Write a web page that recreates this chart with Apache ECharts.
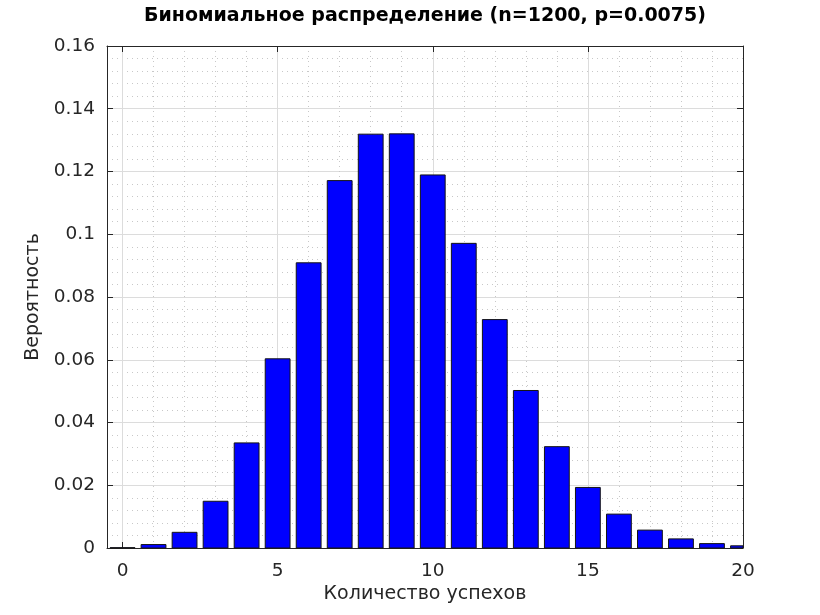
<!DOCTYPE html>
<html lang="ru">
<head>
	<meta charset="UTF-8">
	<script src="https://cdn.jsdelivr.net/npm/echarts@6.0.0/dist/echarts.min.js"></script>
	<title>Биномиальное распределение</title>
	<style>
		html, body { margin: 0; padding: 0; background: #fff; }
	</style>
</head>
<body>
	<div id="main" style="width: 820px;height:615px;"></div>

	<script>
		// данные
		var successes = [0, 1, 2, 3, 4, 5, 6, 7, 8, 9, 10, 11, 12, 13, 14, 15, 16, 17, 18, 19, 20];
		var probabilities = [0.0001, 0.0011, 0.0050, 0.0149, 0.0335, 0.0603, 0.0909, 0.1171, 0.1319, 0.1320,
			0.1189, 0.0971, 0.0728, 0.0502, 0.0323, 0.0193, 0.0108, 0.0057, 0.0029, 0.0014, 0.0007];
		var xTickLabels = [0, 5, 10, 15, 20];
		var yTickLabels = [0, 0.02, 0.04, 0.06, 0.08, 0.1, 0.12, 0.14, 0.16];

		var FONT = 'DejaVu Sans';
		var AXIS_COLOR = '#262626';
		var BAR_WIDTH = 0.8; // в единицах оси X

		// размеры области графика
		var plotLeft = 107, plotRight = 743, plotTop = 46, plotBottom = 548;
		var xMin = -0.5, xMax = 20;
		var pxPerUnit = (plotRight - plotLeft) / (xMax - xMin);
		var gridLeft2 = plotLeft + pxPerUnit * (0 - xMin);

		var chart = echarts.init(document.getElementById('main'));

		// столбец, обрезанный по области графика (как в Octave)
		function renderBar(params, api) {
			var x = api.value(0), y = api.value(1);
			var p0 = api.coord([x - BAR_WIDTH / 2, 0]);
			var p1 = api.coord([x + BAR_WIDTH / 2, y]);
			var cs = params.coordSys;
			var shape = echarts.graphic.clipRectByRect(
				{ x: p0[0], y: p1[1], width: p1[0] - p0[0], height: p0[1] - p1[1] },
				{ x: cs.x, y: cs.y, width: cs.width, height: cs.height }
			);
			if (!shape) return;
			return {
				type: 'rect',
				shape: shape,
				style: { fill: '#0000ff', stroke: '#141414', lineWidth: 1 }
			};
		}

		var option = {
			animation: false,
			backgroundColor: '#fff',
			title: {
				text: 'Биномиальное распределение (n=1200, p=0.0075)',
				left: 420,
				textAlign: 'center',
				top: 2,
				textStyle: { fontFamily: FONT, fontSize: 19, fontWeight: 'bold', color: '#000' }
			},
			grid: [
				// основная сетка: столбцы и ось Y
				{ left: plotLeft, right: 820 - plotRight, top: plotTop, bottom: 615 - plotBottom, containLabel: false },
				// сетка для вертикальных линий и подписей X (начинается с x = 0)
				{ left: gridLeft2, right: 820 - plotRight, top: plotTop, bottom: 615 - plotBottom, containLabel: false }
			],
			xAxis: [
				{
					gridIndex: 0, type: 'value', min: xMin, max: xMax, position: 'bottom',
					name: 'Количество успехов', nameLocation: 'middle', nameGap: 37,
					nameTextStyle: { fontFamily: FONT, fontSize: 19, color: '#262626' },
					axisLine: { show: true, onZero: false, lineStyle: { color: AXIS_COLOR, width: 1 } },
					axisTick: { show: false }, axisLabel: { show: false }, splitLine: { show: false }
				},
				{
					gridIndex: 0, type: 'value', min: xMin, max: xMax, position: 'top',
					axisLine: { show: true, onZero: false, lineStyle: { color: AXIS_COLOR, width: 1 } },
					axisTick: { show: false }, axisLabel: { show: false }, splitLine: { show: false }
				},
				{
					gridIndex: 1, type: 'value', min: 0, max: 20, interval: 5, position: 'bottom',
					axisLine: { show: false, onZero: false },
					axisTick: { show: true, inside: true, length: 6, lineStyle: { color: AXIS_COLOR } },
					axisLabel: {
						fontFamily: FONT, fontSize: 18.5, color: '#262626', margin: 14,
						formatter: function (v) {
							return xTickLabels.indexOf(v) >= 0 ? String(v) : '';
						}
					},
					splitLine: { show: true, lineStyle: { color: '#dcdcdc', width: 1 } },
					minorTick: { show: false, splitNumber: 5 },
					minorSplitLine: { show: true, lineStyle: { color: '#c8c8c8', width: 1, type: [1, 4] } }
				},
				{
					gridIndex: 1, type: 'value', min: 0, max: 20, interval: 5, position: 'top',
					axisLine: { show: false, onZero: false },
					axisTick: { show: true, inside: true, length: 6, lineStyle: { color: AXIS_COLOR } },
					axisLabel: { show: false }, splitLine: { show: false }
				}
			],
			yAxis: [
				{
					gridIndex: 0, type: 'value', min: 0, max: 0.16, interval: 0.02, position: 'left',
					name: 'Вероятность', nameLocation: 'middle', nameGap: 64, nameRotate: 90,
					nameTextStyle: { fontFamily: FONT, fontSize: 19, color: '#262626' },
					axisLine: { show: true, onZero: false, lineStyle: { color: AXIS_COLOR, width: 1 } },
					axisTick: { show: true, inside: true, length: 6, lineStyle: { color: AXIS_COLOR } },
					axisLabel: {
						fontFamily: FONT, fontSize: 18.5, color: '#262626', margin: 12,
						formatter: function (v) {
							var idx = yTickLabels.findIndex(function (t) { return Math.abs(t - v) < 1e-9; });
							return idx >= 0 ? String(yTickLabels[idx]) : '';
						}
					},
					splitLine: { show: true, lineStyle: { color: '#dcdcdc', width: 1 } },
					minorTick: { show: false, splitNumber: 5 },
					minorSplitLine: { show: true, lineStyle: { color: '#c8c8c8', width: 1, type: [1, 4] } }
				},
				{
					gridIndex: 0, type: 'value', min: 0, max: 0.16, interval: 0.02, position: 'right',
					axisLine: { show: true, onZero: false, lineStyle: { color: AXIS_COLOR, width: 1 } },
					axisTick: { show: true, inside: true, length: 6, lineStyle: { color: AXIS_COLOR } },
					axisLabel: { show: false }, splitLine: { show: false }
				},
				{
					gridIndex: 1, type: 'value', min: 0, max: 1, show: false
				}
			],
			series: [
				{
					type: 'custom',
					xAxisIndex: 0,
					yAxisIndex: 0,
					z: 2,
					renderItem: renderBar,
					encode: { x: 0, y: 1 },
					data: successes.map(function (k, i) { return [k, probabilities[i]]; })
				}
			]
		};

		chart.setOption(option);
	</script>
</body>
</html>
